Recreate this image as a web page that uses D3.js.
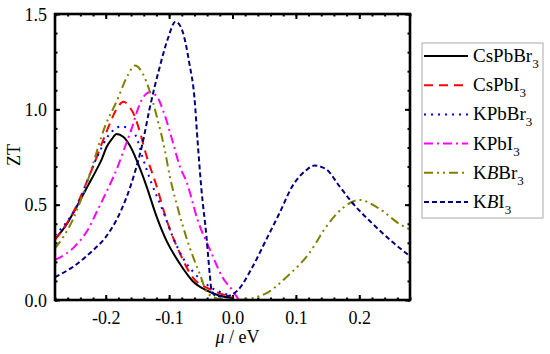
<!DOCTYPE html>
<html>
<head>
<meta charset="UTF-8">
<title>ZT en fonction de mu</title>
<script src="https://cdn.jsdelivr.net/npm/d3@7"></script>
<style>
  body { margin: 0; background: #fff; }
  svg text { font-family: "Liberation Serif", "Times New Roman", Times, "DejaVu Serif", serif !important; fill: #000; }
  .frame { fill: none; stroke: #000; stroke-width: 2.6; }
  .axis path { display: none; }
  .axis line { stroke: #000; }
  .courbe { fill: none; }
</style>
</head>
<body>
<div id="graphe"></div>
<script>
// valeurs
var mu_CsPbBr3 = [-0.28, -0.261, -0.254, -0.236, -0.228, -0.215, -0.206, -0.199, -0.19, -0.183, -0.172, -0.162, -0.146, -0.136, -0.12, -0.104, -0.083, -0.063, -0.041, -0.02, 0];
var zt_CsPbBr3 = [0.32, 0.4, 0.44, 0.55, 0.6, 0.68, 0.74, 0.8, 0.845, 0.87, 0.855, 0.81, 0.69, 0.6, 0.44, 0.31, 0.19, 0.1, 0.05, 0.022, 0.01];

var mu_CsPbI3 = [-0.28, -0.252, -0.22, -0.199, -0.183, -0.172, -0.162, -0.155, -0.146, -0.136, -0.12, -0.104, -0.083, -0.063, -0.031, 0];
var zt_CsPbI3 = [0.315, 0.455, 0.7, 0.88, 1.0, 1.04, 1.01, 0.97, 0.88, 0.76, 0.6, 0.42, 0.245, 0.12, 0.05, 0.016];

var mu_KPbBr3 = [-0.28, -0.246, -0.215, -0.194, -0.175, -0.16, -0.151, -0.142, -0.128, -0.11, -0.094, -0.079, -0.06, -0.036, -0.005];
var zt_KPbBr3 = [0.34, 0.49, 0.74, 0.87, 0.91, 0.89, 0.85, 0.75, 0.615, 0.47, 0.33, 0.225, 0.14, 0.07, 0.025];

var mu_KPbI3 = [-0.28, -0.249, -0.228, -0.213, -0.197, -0.181, -0.17, -0.159, -0.146, -0.131, -0.12, -0.107, -0.096, -0.083, -0.072, -0.055, -0.033, -0.016, 0, 0.01];
var zt_KPbI3 = [0.21, 0.28, 0.37, 0.47, 0.58, 0.7, 0.8, 0.9, 1.03, 1.09, 1.07, 0.97, 0.85, 0.7, 0.615, 0.42, 0.245, 0.12, 0.05, 0.0];

var mu_KBBr3 = [-0.28, -0.252, -0.228, -0.2, -0.183, -0.165, -0.154, -0.142, -0.131, -0.12, -0.107, -0.099, -0.087, -0.068, -0.052, -0.039, -0.02, 0.01, 0.053, 0.085, 0.121, 0.148, 0.173, 0.2, 0.231, 0.263, 0.28];
var zt_KBBr3 = [0.27, 0.42, 0.63, 0.92, 1.04, 1.18, 1.23, 1.19, 1.1, 0.97, 0.79, 0.65, 0.49, 0.28, 0.14, 0.035, 0.005, 0.0, 0.035, 0.12, 0.245, 0.385, 0.48, 0.525, 0.48, 0.4, 0.37];

var mu_KBI3 = [-0.28, -0.249, -0.222, -0.2, -0.183, -0.167, -0.154, -0.142, -0.131, -0.115, -0.102, -0.09, -0.08, -0.068, -0.06, -0.055, -0.049, -0.041, -0.036, -0.033, -0.025, -0.01, 0.008, 0.031, 0.053, 0.074, 0.095, 0.116, 0.129, 0.148, 0.168, 0.189, 0.221, 0.252, 0.28];
var zt_KBI3 = [0.12, 0.18, 0.255, 0.33, 0.42, 0.54, 0.67, 0.82, 1.0, 1.22, 1.37, 1.46, 1.42, 1.24, 1.06, 0.83, 0.58, 0.33, 0.14, 0.05, 0.02, 0.02, 0.05, 0.17, 0.315, 0.455, 0.6, 0.68, 0.705, 0.685, 0.6, 0.51, 0.4, 0.305, 0.23];

var xTicks = [-0.2, -0.1, 0.0, 0.1, 0.2];
var yTicks = [0.0, 0.5, 1.0, 1.5];

var series = [
  {parts: [["CsPbBr"], ["3", "sub"]], mu: mu_CsPbBr3, zt: zt_CsPbBr3, color: "#000000", dash: null},
  {parts: [["CsPbI"], ["3", "sub"]], mu: mu_CsPbI3, zt: zt_CsPbI3, color: "#ff0000", dash: "9,6"},
  {parts: [["KPbBr"], ["3", "sub"]], mu: mu_KPbBr3, zt: zt_KPbBr3, color: "#0000ff", dash: "2,5"},
  {parts: [["KPbI"], ["3", "sub"]], mu: mu_KPbI3, zt: zt_KPbI3, color: "#ff00ff", dash: "9,4,2,4"},
  {parts: [["K"], ["B", "it"], ["Br"], ["3", "sub"]], mu: mu_KBBr3, zt: zt_KBBr3, color: "#808000", dash: "9,4,2,4,2,4"},
  {parts: [["K"], ["B", "it"], ["I"], ["3", "sub"]], mu: mu_KBI3, zt: zt_KBI3, color: "#000080", dash: "5,3"}
];

var margin = {top: 14, right: 140, bottom: 54, left: 55},
    W = 550, H = 354,
    width = W - margin.left - margin.right,
    height = H - margin.top - margin.bottom;

var svg = d3.select("#graphe").append("svg")
    .attr("width", W)
    .attr("height", H);

var g = svg.append("g")
    .attr("transform", "translate(" + margin.left + "," + margin.top + ")");

var x = d3.scaleLinear().domain([-0.28, 0.28]).range([0, width]);
var y = d3.scaleLinear().domain([0, 1.5]).range([height, 0]);

var fmt = function(d) { return d3.format(".1f")(d).replace("\u2212", "-"); };

// graduations mineures
var xMinor = d3.range(-0.28, 0.281, 0.02).map(function(d) { return Math.round(d * 100) / 100; });
var yMinor = d3.range(0, 1.501, 0.1).map(function(d) { return Math.round(d * 10) / 10; });

function minor(axis, ticks, tr) {
  g.append("g").attr("class", "axis").attr("transform", tr)
    .call(axis.tickValues(ticks).tickSize(-2.5).tickFormat(""));
}
minor(d3.axisBottom(x), xMinor, "translate(0," + height + ")");
minor(d3.axisTop(x), xMinor, "translate(0,0)");
minor(d3.axisLeft(y), yMinor, "translate(0,0)");
minor(d3.axisRight(y), yMinor, "translate(" + width + ",0)");

var xAxis = g.append("g").attr("class", "axis")
    .attr("transform", "translate(0," + height + ")")
    .call(d3.axisBottom(x).tickValues(xTicks).tickSize(-5).tickPadding(10).tickFormat(fmt));
g.append("g").attr("class", "axis")
    .call(d3.axisTop(x).tickValues(xTicks).tickSize(-5).tickFormat(""));
var yAxis = g.append("g").attr("class", "axis")
    .call(d3.axisLeft(y).tickValues(yTicks).tickSize(-5).tickPadding(8).tickFormat(fmt));
g.append("g").attr("class", "axis")
    .attr("transform", "translate(" + width + ",0)")
    .call(d3.axisRight(y).tickValues(yTicks).tickSize(-5).tickFormat(""));

g.selectAll(".axis").attr("font-family", null);
g.selectAll(".axis line").attr("stroke-width", 2);
xAxis.selectAll("text").style("font-size", "18px").attr("dy", "0.75em");
yAxis.selectAll("text").style("font-size", "18px").attr("dy", "0.35em");

g.append("clipPath").attr("id", "clip")
  .append("rect").attr("width", width).attr("height", height);

var line = d3.line()
    .x(function(d) { return x(d[0]); })
    .y(function(d) { return y(d[1]); })
    .curve(d3.curveMonotoneX);

g.append("g").attr("clip-path", "url(#clip)")
  .selectAll(".courbe")
  .data(series)
  .enter().append("path")
    .attr("class", "courbe")
    .attr("d", function(s) { return line(d3.zip(s.mu, s.zt)); })
    .attr("stroke", function(s) { return s.color; })
    .attr("stroke-width", 2)
    .attr("stroke-dasharray", function(s) { return s.dash; });

g.append("rect").attr("class", "frame")
    .attr("width", width).attr("height", height);

// titres des axes
svg.append("text")
    .attr("transform", "translate(20," + (margin.top + y(0.75) - 2) + ") rotate(-90)")
    .attr("text-anchor", "middle")
    .style("font-size", "18px")
    .text("ZT");

var xl = svg.append("text")
    .attr("x", margin.left + x(0.008))
    .attr("y", 343)
    .attr("text-anchor", "middle")
    .style("font-size", "18px");
xl.append("tspan").style("font-style", "italic").text("\u03bc");
xl.append("tspan").text(" / eV");

// légende
var leg = svg.append("g").attr("transform", "translate(422,43)");
leg.append("rect")
    .attr("width", 121).attr("height", 175)
    .attr("fill", "#fff").attr("stroke", "#aaa").attr("stroke-width", 1);

var item = leg.selectAll(".item")
  .data(series)
  .enter().append("g")
    .attr("class", "item")
    .attr("transform", function(d, i) { return "translate(0," + (13 + i * 29.2) + ")"; });

item.append("line")
    .attr("x1", 2).attr("x2", 46)
    .attr("stroke", function(s) { return s.color; })
    .attr("stroke-width", 2)
    .attr("stroke-dasharray", function(s) { return s.dash; });

var txt = item.append("text")
    .attr("x", 51).attr("y", 6)
    .style("font-size", "19px");
txt.each(function(s) {
  var t = d3.select(this);
  s.parts.forEach(function(p) {
    var sp = t.append("tspan").text(p[0]);
    if (p[1] === "it") sp.style("font-style", "italic");
    if (p[1] === "sub") sp.style("font-size", "13px").attr("dy", 6);
  });
});
</script>
</body>
</html>
